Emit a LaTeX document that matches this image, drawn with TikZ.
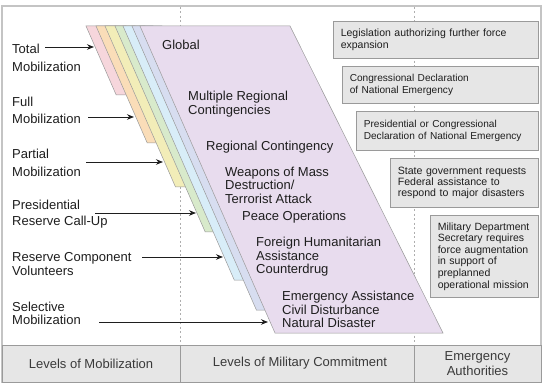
\documentclass[tikz,border=0pt]{standalone}
\usepackage{fontspec}
\setmainfont{Liberation Sans}
\usetikzlibrary{arrows.meta}
\definecolor{txt}{HTML}{1E1E1E}
\definecolor{bottxt}{HTML}{3A3A3A}
\definecolor{frame}{HTML}{C4C4C4}
\definecolor{edge}{HTML}{9A9A9A}
\definecolor{boxfill}{HTML}{E6E6E6}
\definecolor{cPink}{HTML}{F6D6DC}
\definecolor{cOrange}{HTML}{FADDB8}
\definecolor{cYellow}{HTML}{F2EDB8}
\definecolor{cGreen}{HTML}{D8EACB}
\definecolor{cBlue}{HTML}{D8EDF8}
\definecolor{cLav}{HTML}{D7DDF0}
\definecolor{cPurple}{HTML}{E8DCEE}
\begin{document}
\begin{tikzpicture}[x=1pt,y=-1pt,
  layer/.style={draw=edge, line width=0.5pt},
  guide/.style={draw=edge!80, line width=0.6pt, dash pattern=on 2pt off 2.5pt},
  lbl/.style={anchor=west, align=left, inner sep=0pt, text=txt},
  ptxt/.style={anchor=west, align=left, inner sep=0pt, text=txt,
    font=\fontsize{13}{13.4}\selectfont},
  authbox/.style={anchor=north west, draw=edge, fill=boxfill, line width=0.6pt,
    align=left, inner xsep=7.5pt, inner ysep=0pt, text=txt,
    font=\fontsize{10.5}{11.8}\selectfont},
  cell/.style={draw=edge, fill=boxfill, line width=0.6pt, minimum height=37pt,
    inner sep=0pt, text=bottxt, align=center, font=\fontsize{13}{15}\selectfont},
  arr/.style={draw=txt, line width=0.9pt, -{Stealth[length=7pt,width=5.5pt]}}
]
\useasboundingbox (0,0) rectangle (543,387);
\fill[white] (0,0) rectangle (543,387);
% outer frame
\draw[frame, line width=1.6pt] (2,6) rectangle (541,382);
% dotted guides
\draw[guide] (180,7) -- (180,345);
\draw[guide] (414,7) -- (414,345);
% stacked layers (left edge slope 0.438)
\foreach \x/\b/\c in {86/95/cPink,96/143/cOrange,105/187/cYellow,115/232/cGreen,123/280/cBlue,132/310/cLav}{
  \pgfmathsetmacro{\xb}{\x+0.438*(\b-26)}
  \filldraw[layer, fill=\c] (\x,26) -- (\xb,\b) -- (\xb+30,\b) -- (\x+30,26) -- cycle;
}
\filldraw[layer, fill=cPurple] (140,26) -- (275,333) -- (443,333) -- (290,26) -- cycle;
% arrow targets on layer edges
\coordinate (pinkT) at (94,47);
\coordinate (orangeT) at (134,117);
\coordinate (yellowT) at (163,162);
\coordinate (greenT) at (196,213);
\coordinate (blueT) at (223,257);
\coordinate (purpleT) at (268,322);
% arrow starts
\coordinate (sTotal) at (45,47);
\coordinate (sFull) at (88,117);
\coordinate (sPartial) at (86,162);
\coordinate (sPres) at (95,213);
\coordinate (sRes) at (142,257);
\coordinate (sSel) at (99,322);
% left labels
\node[lbl, font=\fontsize{13}{18}\selectfont] (lTotal) at (12,58) {Total\\Mobilization};
\node[lbl, font=\fontsize{13}{17.5}\selectfont] (lFull) at (12,110.5) {Full\\Mobilization};
\node[lbl, font=\fontsize{13}{18}\selectfont] (lPartial) at (12,163) {Partial\\Mobilization};
\node[lbl, font=\fontsize{13}{15.8}\selectfont] (lPres) at (12,214.5) {Presidential\\Reserve Call-Up};
\node[lbl, font=\fontsize{13}{13.6}\selectfont] (lRes) at (12,264) {Reserve Component\\Volunteers};
\node[lbl, font=\fontsize{13}{13.6}\selectfont] (lSel) at (12,313.5) {Selective\\Mobilization};
\draw[arr] (sTotal) -- (pinkT);
\draw[arr] (sFull) -- (orangeT);
\draw[arr] (sPartial) -- (yellowT);
\draw[arr] (sPres) -- (greenT);
\draw[arr] (sRes) -- (blueT);
\draw[arr] (sSel) -- (purpleT);
% levels of military commitment
\node[ptxt] (tGlobal) at (162,45) {Global};
\node[ptxt] (tMRC) at (188,104) {Multiple Regional\\Contingencies};
\node[ptxt] (tRC) at (206,147) {Regional Contingency};
\node[ptxt] (tWMD) at (225,185) {Weapons of Mass\\Destruction/\\Terrorist Attack};
\node[ptxt] (tPO) at (242,217) {Peace Operations};
\node[ptxt] (tFHA) at (256,257) {Foreign Humanitarian\\Assistance\\Counterdrug};
\node[ptxt] (tEA) at (282,309.5) {Emergency Assistance\\Civil Disturbance\\Natural Disaster};
% emergency authorities
\node[authbox, text width=190pt, minimum height=37pt] (box1) at (333,21) {Legislation authorizing further force\\expansion};
\node[authbox, text width=181pt, minimum height=37pt, font=\fontsize{10.1}{11.6}\selectfont] (box2) at (342,66) {Congressional Declaration\\of National Emergency};
\node[authbox, text width=167pt, minimum height=39pt, font=\fontsize{10.1}{11.8}\selectfont] (box3) at (356,111) {Presidential or Congressional\\Declaration of National Emergency};
\node[authbox, text width=133pt, minimum height=49pt, font=\fontsize{10.6}{11.2}\selectfont] (box4) at (390,158) {State government requests\\Federal assistance to\\respond to major disasters};
\node[authbox, text width=93pt, minimum height=82pt, font=\fontsize{10.5}{11.6}\selectfont] (box5) at (430,215) {Military Department\\Secretary requires\\force augmentation\\in support of\\preplanned\\operational mission};
% bottom band
\node[cell, minimum width=178pt] (c1) at (91,363.5) {Levels of Mobilization};
\node[cell, minimum width=234pt] (c2) at (297,363.5) {\hspace*{6pt}Levels of Military Commitment};
\node[cell, minimum width=127pt, font=\fontsize{13}{15}\selectfont] (c3) at (477.5,363.5) {Emergency\\Authorities};
\end{tikzpicture}
\end{document}
